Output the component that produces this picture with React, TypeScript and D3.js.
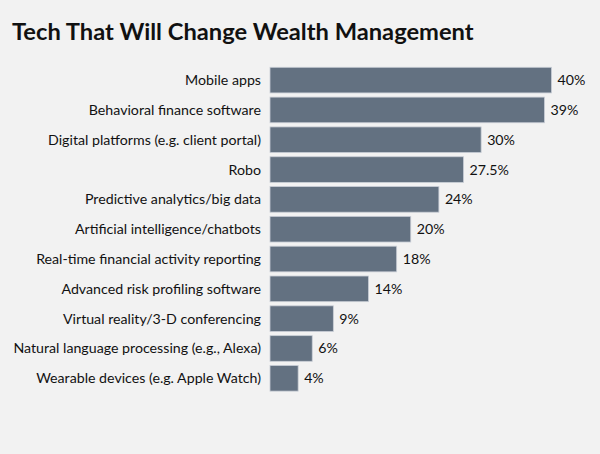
import * as d3 from "d3";
import React, { useEffect, useRef } from "react";

const categories = [
  "Mobile apps",
  "Behavioral finance software",
  "Digital platforms (e.g. client portal)",
  "Robo",
  "Predictive analytics/big data",
  "Artificial intelligence/chatbots",
  "Real-time financial activity reporting",
  "Advanced risk profiling software",
  "Virtual reality/3-D conferencing",
  "Natural language processing (e.g., Alexa)",
  "Wearable devices (e.g. Apple Watch)",
];
const values = [40, 39, 30, 27.5, 24, 20, 18, 14, 9, 6, 4];
const valueLabels = ["40%", "39%", "30%", "27.5%", "24%", "20%", "18%", "14%", "9%", "6%", "4%"];

const W = 600;
const H = 454;
const FONT = "Lato, 'Open Sans', sans-serif";

const App: React.FC = () => {
  const ref = useRef<SVGSVGElement>(null);

  useEffect(() => {
    const svg = d3.select(ref.current).html("");

    svg.append("rect").attr("width", W).attr("height", H).attr("fill", "#f2f2f2");

    svg
      .append("text")
      .attr("x", 12)
      .attr("y", 40)
      .attr("font-family", FONT)
      .attr("font-weight", 700)
      .attr("font-size", 23.7)
      .attr("fill", "#111")
      .text("Tech That Will Change Wealth Management");

    const x = d3.scaleLinear().domain([0, 40]).range([270, 551.5]);
    const y = d3
      .scaleBand()
      .domain(categories)
      .range([65.2, 393.2])
      .paddingInner(0.14)
      .paddingOuter(0.07);

    const rows = svg
      .selectAll("g.row")
      .data(categories)
      .enter()
      .append("g")
      .attr("class", "row");

    rows
      .append("rect")
      .attr("x", x(0))
      .attr("y", (d) => y(d)!)
      .attr("width", (d, i) => x(values[i]) - x(0))
      .attr("height", y.bandwidth())
      .attr("fill", "#637181")
      .attr("stroke", "#c9ced6")
      .attr("stroke-width", 0.8);

    rows
      .append("text")
      .attr("x", 261)
      .attr("y", (d) => y(d)! + y.bandwidth() / 2)
      .attr("dy", "0.35em")
      .attr("text-anchor", "end")
      .attr("font-family", FONT)
      .attr("font-size", 14.2)
      .attr("fill", "#111")
      .text((d) => d);

    rows
      .append("text")
      .attr("x", (d, i) => x(values[i]) + 6)
      .attr("y", (d) => y(d)! + y.bandwidth() / 2)
      .attr("dy", "0.35em")
      .attr("font-family", FONT)
      .attr("font-size", 14.2)
      .attr("fill", "#111")
      .text((d, i) => valueLabels[i]);
  }, []);

  return (
    <svg
      ref={ref}
      width={W}
      height={H}
      style={{ position: "absolute", left: 0, top: 0, display: "block" }}
    ></svg>
  );
};

export default App;
